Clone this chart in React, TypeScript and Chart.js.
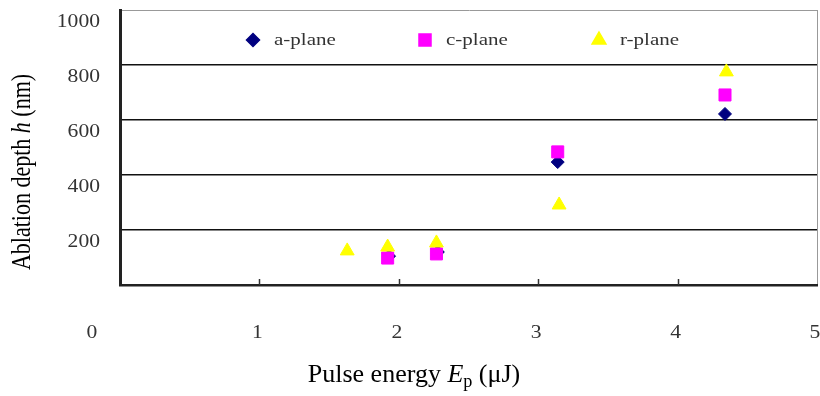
import React, { useEffect, useRef } from 'react';
import { Chart, registerables } from 'chart.js';
import { drawPoint } from 'chart.js/helpers';

Chart.register(...registerables);

// ---- data ----
const seriesNames = ['a-plane', 'c-plane', 'r-plane'];
const aPlaneX = [1.93, 2.28, 3.14, 4.34];
const aPlaneY = [105, 120, 447, 622];
const cPlaneX = [1.92, 2.27, 3.14, 4.34];
const cPlaneY = [98, 113, 484, 691];
const rPlaneX = [1.63, 1.92, 2.27, 3.15, 4.35];
const rPlaneY = [124, 138, 153, 291, 775];

const xTickValues = [0, 1, 2, 3, 4, 5];
const xTickLabels = ['0', '1', '2', '3', '4', '5'];
const yTickValues = [200, 400, 600, 800, 1000];
const yTickLabels = ['200', '400', '600', '800', '1000'];

const SERIF = "'Liberation Serif', 'Times New Roman', serif";
const SX = 1.2; // horizontal stretch of the original figure's text

const colors = ['#000080', '#FF00FF', '#FFFF00'];
const styles = ['rectRot', 'rect', 'triangle'];
const radii = [6.5, 8.5, 8];

function stretchedText(ctx: CanvasRenderingContext2D, text: string, x: number, y: number, align: CanvasTextAlign) {
  ctx.save();
  ctx.translate(x, y);
  ctx.scale(SX, 1);
  ctx.textAlign = align;
  ctx.fillText(text, 0, 0);
  ctx.restore();
}

type Seg = { t: string; italic?: boolean; sub?: boolean };

function richWidth(ctx: CanvasRenderingContext2D, segs: Seg[], size: number) {
  let w = 0;
  for (const s of segs) {
    const fs = s.sub ? size * 0.7 : size;
    ctx.font = `${s.italic ? 'italic ' : ''}${fs}px ${SERIF}`;
    w += ctx.measureText(s.t).width;
  }
  return w;
}

function drawRich(ctx: CanvasRenderingContext2D, segs: Seg[], size: number, startX: number, baseY: number) {
  let x = startX;
  for (const s of segs) {
    const fs = s.sub ? size * 0.7 : size;
    ctx.font = `${s.italic ? 'italic ' : ''}${fs}px ${SERIF}`;
    ctx.fillText(s.t, x, s.sub ? baseY + size * 0.18 : baseY);
    x += ctx.measureText(s.t).width;
  }
}

const decorPlugin = {
  id: 'decor',
  afterDraw(chart: any) {
    const { ctx, chartArea, scales } = chart;
    const xs = scales.x;
    const ys = scales.y;
    ctx.save();

    // inner tick marks on x axis
    ctx.strokeStyle = '#333';
    ctx.lineWidth = 1.5;
    for (const v of xTickValues) {
      if (v <= 0 || v >= 5) continue;
      const px = Math.round(xs.getPixelForValue(v)) + 0.5;
      ctx.beginPath();
      ctx.moveTo(px, chartArea.bottom);
      ctx.lineTo(px, chartArea.bottom - 6);
      ctx.stroke();
    }

    // y tick labels
    ctx.fillStyle = '#333';
    ctx.textBaseline = 'middle';
    ctx.font = `18px ${SERIF}`;
    yTickValues.forEach((v, i) => {
      const py = ys.getPixelForValue(v) + 12;
      stretchedText(ctx, yTickLabels[i], chartArea.left - 20, py, 'right');
    });

    // x tick labels
    xTickValues.forEach((v, i) => {
      const px = xs.getPixelForValue(v) + (v === 0 ? -28 : -2);
      stretchedText(ctx, xTickLabels[i], px, chartArea.bottom + 48, 'center');
    });

    // legend inside plot
    const legendOffsets = [133, 305, 479];
    const ly = chartArea.top + 30;
    ctx.font = `17.5px ${SERIF}`;
    seriesNames.forEach((name, i) => {
      const mx = chartArea.left + legendOffsets[i];
      ctx.fillStyle = colors[i];
      ctx.strokeStyle = colors[i];
      drawPoint(ctx, { pointStyle: styles[i], radius: radii[i], borderWidth: 1, rotation: 0 } as any, mx, ly);
      ctx.fillStyle = '#333';
      ctx.textBaseline = 'middle';
      stretchedText(ctx, name, mx + 21, ly, 'left');
    });

    // x title
    ctx.fillStyle = '#000';
    ctx.textBaseline = 'alphabetic';
    const xt: Seg[] = [{ t: 'Pulse energy ' }, { t: 'E', italic: true }, { t: 'p', sub: true }, { t: ' (\u03bcJ)' }];
    const xSize = 26;
    const xw = richWidth(ctx, xt, xSize);
    drawRich(ctx, xt, xSize, chart.width / 2 + 4 - xw / 2, chartArea.bottom + 97);

    // y title (rotated)
    const yt: Seg[] = [{ t: 'Ablation depth ' }, { t: 'h', italic: true }, { t: ' (nm)' }];
    const ySize = 22;
    const yw = richWidth(ctx, yt, ySize);
    ctx.save();
    ctx.translate(30, chartArea.top + 162);
    ctx.scale(SX, 1);
    ctx.rotate(-Math.PI / 2);
    drawRich(ctx, yt, ySize, -yw / 2, 0);
    ctx.restore();

    ctx.restore();
  },
};

export default function App() {
  const ref = useRef<HTMLCanvasElement | null>(null);
  useEffect(() => {
    document.body.style.margin = '0';
    const canvas = ref.current;
    if (!canvas) return;
    const mk = (xsArr: number[], ysArr: number[]) => xsArr.map((x, i) => ({ x, y: ysArr[i] }));
    const chart = new Chart(canvas, {
      type: 'scatter',
      data: {
        datasets: [
          { label: seriesNames[0], data: mk(aPlaneX, aPlaneY), pointStyle: styles[0], pointRadius: radii[0], backgroundColor: colors[0], borderColor: colors[0], borderWidth: 1, order: 3 },
          { label: seriesNames[1], data: mk(cPlaneX, cPlaneY), pointStyle: styles[1], pointRadius: radii[1], backgroundColor: colors[1], borderColor: colors[1], borderWidth: 1, order: 2 },
          { label: seriesNames[2], data: mk(rPlaneX, rPlaneY), pointStyle: styles[2], pointRadius: radii[2], backgroundColor: colors[2], borderColor: colors[2], borderWidth: 1, order: 1 },
        ] as any,
      },
      options: {
        animation: false,
        responsive: false,
        layout: { autoPadding: false, padding: { top: 10, right: 3, left: 0, bottom: 0 } },
        plugins: { legend: { display: false }, tooltip: { enabled: false } },
        scales: {
          x: {
            type: 'linear',
            min: 0,
            max: 5,
            ticks: { stepSize: 1, display: false },
            grid: {
              drawTicks: false,
              color: (c: any) => (c.tick && c.tick.value === 5 ? '#999' : 'rgba(0,0,0,0)'),
              lineWidth: 1,
            },
            border: { display: true, color: '#222', width: 2.5 },
            afterFit: (s: any) => { s.height = 111; },
          },
          y: {
            type: 'linear',
            min: 0,
            max: 1000,
            ticks: { stepSize: 200, display: false },
            grid: {
              drawTicks: false,
              color: (c: any) => (c.tick && c.tick.value === 1000 ? '#999' : '#111'),
              lineWidth: (c: any) => (c.tick && c.tick.value === 1000 ? 1 : 1.5),
            },
            border: { display: true, color: '#222', width: 3 },
            afterFit: (s: any) => { s.width = 120; },
          },
        },
      } as any,
      plugins: [decorPlugin],
    });
    return () => chart.destroy();
  }, []);
  return (
    <div style={{ width: 820, height: 396 }}>
      <canvas ref={ref} width={820} height={396} style={{ display: 'block' }} />
    </div>
  );
}
